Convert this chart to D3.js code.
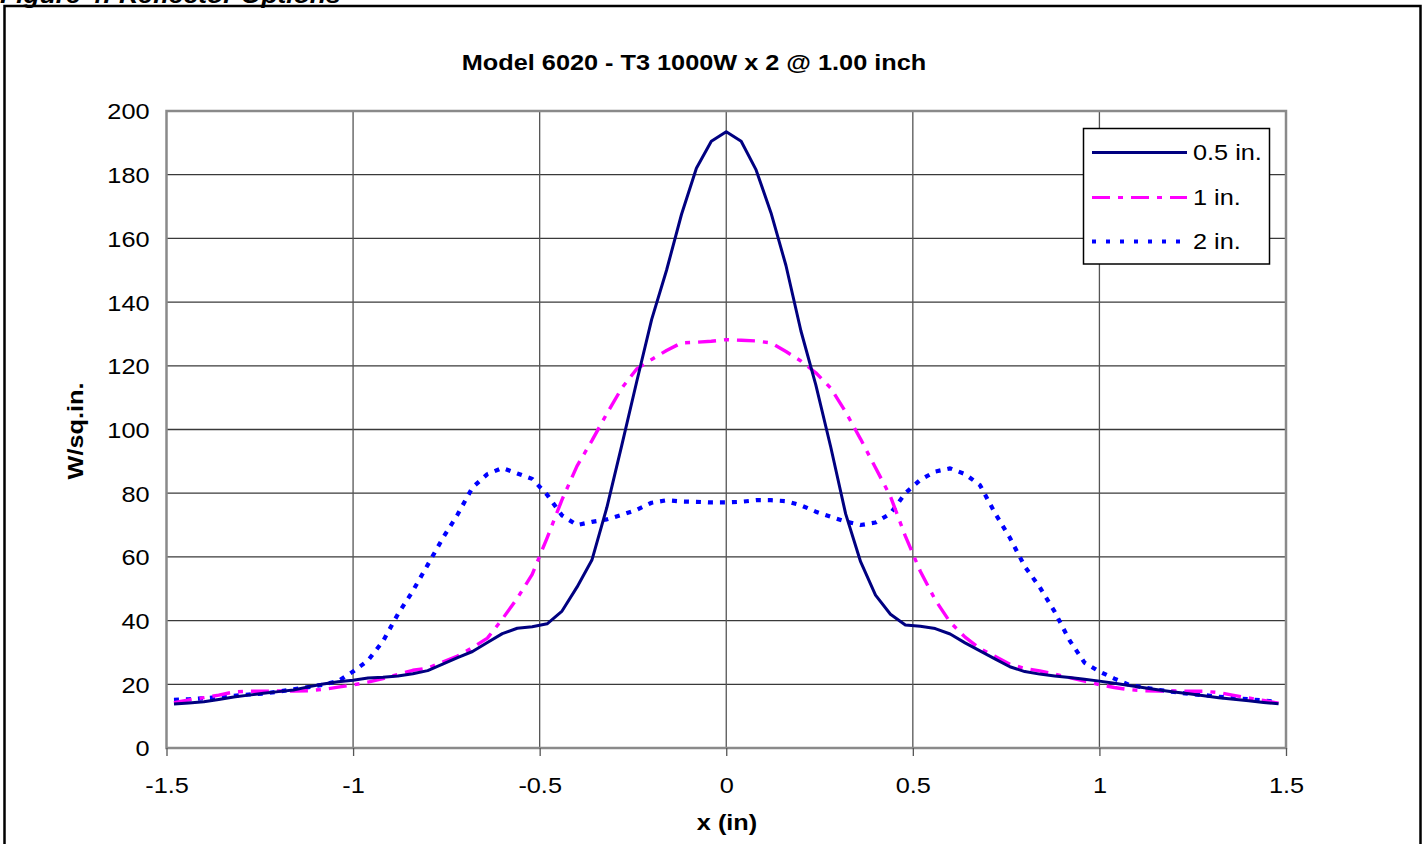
<!DOCTYPE html>
<html>
<head>
<meta charset="utf-8">
<script src="https://cdn.jsdelivr.net/npm/d3@7"></script>
<style>
  body { margin: 0; background: #fff; }
  text { font-family: "Liberation Sans", Arial, sans-serif; fill: #000; }
</style>
</head>
<body>
<div id="chart"></div>
<script>
// positions along the reflector, inches
const xs = d3.range(-37, 38).map(function(k) { return +(k * 0.04).toFixed(2); });

// W/sq.in. for each reflector height
const halfInch = [
  13.8, 14.1, 14.5, 15.2, 16.0, 16.6, 17.2, 17.7, 18.2, 19.2, 20.1, 20.8, 21.3, 22.0, 22.2, 22.6, 23.3, 24.3, 26.3,
  28.4, 30.3, 33.1, 35.9, 37.6, 38.1, 39.0, 43.0, 50.5, 59.0, 75.5, 95.0, 115.0, 134.5, 150.0, 167.5, 182.0, 190.5,
  193.5,
  190.5, 181.5, 168.0, 151.5, 131.0, 114.0, 94.5, 73.5, 58.5, 48.0, 42.0, 38.6, 38.2, 37.5, 35.8, 33.0, 30.5, 28.0,
  25.5, 24.0, 23.2, 22.6, 22.1, 21.6, 21.0, 20.3, 19.6, 18.9, 18.2, 17.6, 17.0, 16.4, 15.8, 15.3, 14.8, 14.3, 13.9
];
const oneInch = [
  14.2, 15.1, 15.8, 16.6, 17.6, 17.8, 17.8, 17.9, 17.9, 18.0, 18.4, 19.1, 19.8, 20.7, 21.8, 23.1, 24.4, 25.1, 27.0,
  28.9, 31.5, 34.5, 40.5, 47.0, 54.5, 66.0, 78.0, 88.5, 96.5, 105.0, 113.0, 119.0, 122.0, 124.8, 127.2, 127.4, 127.7,
  128.2,
  128.0, 127.8, 127.2, 124.5, 121.5, 117.8, 113.0, 105.5, 97.0, 88.0, 79.0, 66.5, 55.5, 46.5, 39.5, 34.8, 31.2, 28.8,
  26.3, 25.0, 24.2, 23.2, 22.1, 21.0, 19.9, 19.0, 18.3, 18.0, 17.9, 17.9, 17.8, 17.8, 17.4, 16.5, 15.7, 14.9, 14.1
];
const twoInch = [
  15.1, 15.3, 15.6, 16.0, 16.4, 16.8, 17.1, 17.7, 18.4, 19.1, 19.9, 21.0, 24.0, 27.5, 33.5, 42.0, 49.3, 57.5, 65.8,
  73.3, 81.8, 86.0, 87.9, 86.2, 84.5, 79.5, 73.0, 70.0, 71.0, 71.8, 73.2, 74.8, 77.0, 77.8, 77.4, 77.3, 77.1,
  77.1,
  77.3, 77.8, 77.8, 77.5, 76.2, 74.2, 72.6, 71.1, 70.0, 70.8, 73.6, 80.0, 84.2, 86.8, 87.8, 86.0, 82.5, 73.8,
  66.0, 57.0, 50.5, 42.8, 33.8, 26.8, 24.0, 21.8, 19.8, 19.0, 18.2, 17.6, 17.0, 16.6, 16.1, 15.7, 15.3, 14.9, 14.5
];

const seriesNames = ["0.5 in.", "1 in.", "2 in."];
const xTicks = [-1.5, -1, -0.5, 0, 0.5, 1, 1.5];
const yTicks = [0, 20, 40, 60, 80, 100, 120, 140, 160, 180, 200];

const width = 1426, height = 844;
const plotLeft = 166.5, plotRight = 1286, plotTop = 111, plotBottom = 748;
const stretch = 1.15; // the scanned figure's lettering is a little wide

const svg = d3.select("#chart").append("svg")
  .attr("width", width)
  .attr("height", height);

// text at (px, py), widened horizontally about its anchor
function label(px, py, str, opts) {
  opts = opts || {};
  const t = svg.append("text")
    .attr("transform", "translate(" + px + "," + py + ")" + (opts.rotate ? " rotate(" + opts.rotate + ")" : "") + " scale(" + stretch + ",1)")
    .attr("text-anchor", opts.anchor || "start")
    .style("font-size", (opts.size || 22) + "px")
    .text(str);
  if (opts.bold) t.style("font-weight", "bold");
  if (opts.italic) t.style("font-style", "italic");
  if (opts.dy) t.attr("dy", opts.dy);
  return t;
}

// caption cut off by the page edge
label(0, 3, "Figure 4: Reflector Options", { size: 23, bold: true, italic: true });

// outer frame
svg.append("rect")
  .attr("x", 4.5).attr("y", 6)
  .attr("width", 1416).attr("height", 850)
  .attr("fill", "none")
  .attr("stroke", "#000")
  .attr("stroke-width", 2.5);

const x = d3.scaleLinear().domain([-1.5, 1.5]).range([plotLeft, plotRight]);
const y = d3.scaleLinear().domain([0, 200]).range([plotBottom, plotTop]);

// grid
svg.append("g")
  .selectAll("line")
  .data(yTicks.filter(function(d) { return d > 0 && d < 200; }))
  .enter().append("line")
  .attr("x1", plotLeft).attr("x2", plotRight)
  .attr("y1", function(d) { return y(d); })
  .attr("y2", function(d) { return y(d); })
  .attr("stroke", "#3a3a3a")
  .attr("stroke-width", 1.3);

svg.append("g")
  .selectAll("line")
  .data(xTicks.filter(function(d) { return d > -1.5 && d < 1.5; }))
  .enter().append("line")
  .attr("x1", function(d) { return x(d); })
  .attr("x2", function(d) { return x(d); })
  .attr("y1", plotTop).attr("y2", plotBottom)
  .attr("stroke", "#555")
  .attr("stroke-width", 1.3);

// plot border (gray)
svg.append("rect")
  .attr("x", plotLeft).attr("y", plotTop)
  .attr("width", plotRight - plotLeft).attr("height", plotBottom - plotTop)
  .attr("fill", "none")
  .attr("stroke", "#8a8a8a")
  .attr("stroke-width", 2.5);

// x axis
const xAxis = d3.axisBottom(x)
  .tickValues(xTicks)
  .tickSize(8)
  .tickFormat(function(d) { return String(d); });

const gx = svg.append("g")
  .attr("transform", "translate(0," + plotBottom + ")")
  .call(xAxis);
gx.select(".domain").remove();
gx.selectAll(".tick line").attr("stroke", "#555").attr("stroke-width", 1.3);
gx.selectAll(".tick text")
  .attr("y", 45)
  .attr("dy", null)
  .attr("transform", "scale(" + stretch + ",1)")
  .style("font-size", "22px")
  .style("font-family", "Liberation Sans, Arial, sans-serif");

// y axis
const yAxis = d3.axisLeft(y)
  .tickValues(yTicks)
  .tickSize(0)
  .tickFormat(d3.format("d"));

const gy = svg.append("g")
  .attr("transform", "translate(" + plotLeft + ",0)")
  .call(yAxis);
gy.select(".domain").remove();
gy.selectAll(".tick text")
  .attr("x", -17 / stretch)
  .attr("dy", "0.36em")
  .attr("transform", "scale(" + stretch + ",1)")
  .style("font-size", "22px")
  .style("font-family", "Liberation Sans, Arial, sans-serif");

// titles
label(694, 70, "Model 6020 - T3 1000W x 2 @ 1.00 inch", { anchor: "middle", bold: true });
label(727, 830, "x (in)", { anchor: "middle", bold: true });
label(83, 431, "W/sq.in.", { anchor: "middle", bold: true, rotate: -90 });

// series
const styles = [
  { color: "#000080", width: 3, dash: null },
  { color: "#ff00ff", width: 3.4, dash: "18,8,5,8" },
  { color: "#0000ff", width: 4.2, dash: "5,7" }
];
const values = [halfInch, oneInch, twoInch];

const line = d3.line()
  .x(function(d) { return x(d[0]); })
  .y(function(d) { return y(d[1]); });

// draw 2 in. first, then 1 in., then 0.5 in. on top
[2, 1, 0].forEach(function(i) {
  svg.append("path")
    .datum(xs.map(function(v, k) { return [v, values[i][k]]; }))
    .attr("fill", "none")
    .attr("stroke", styles[i].color)
    .attr("stroke-width", styles[i].width)
    .attr("stroke-linejoin", "round")
    .attr("stroke-dasharray", styles[i].dash)
    .attr("d", line);
});

// legend
svg.append("rect")
  .attr("x", 1083.5).attr("y", 128.5)
  .attr("width", 186).attr("height", 135.5)
  .attr("fill", "#fff")
  .attr("stroke", "#000")
  .attr("stroke-width", 1.5);

const rowY = [152.5, 197.5, 241.5];
seriesNames.forEach(function(name, i) {
  svg.append("line")
    .attr("x1", 1092).attr("x2", 1187)
    .attr("y1", rowY[i]).attr("y2", rowY[i])
    .attr("stroke", styles[i].color)
    .attr("stroke-width", i === 2 ? 4 : 3.2)
    .attr("stroke-dasharray", i === 2 ? "4,10" : styles[i].dash);
  label(1193, rowY[i], name, { dy: "0.36em" });
});
</script>
</body>
</html>
